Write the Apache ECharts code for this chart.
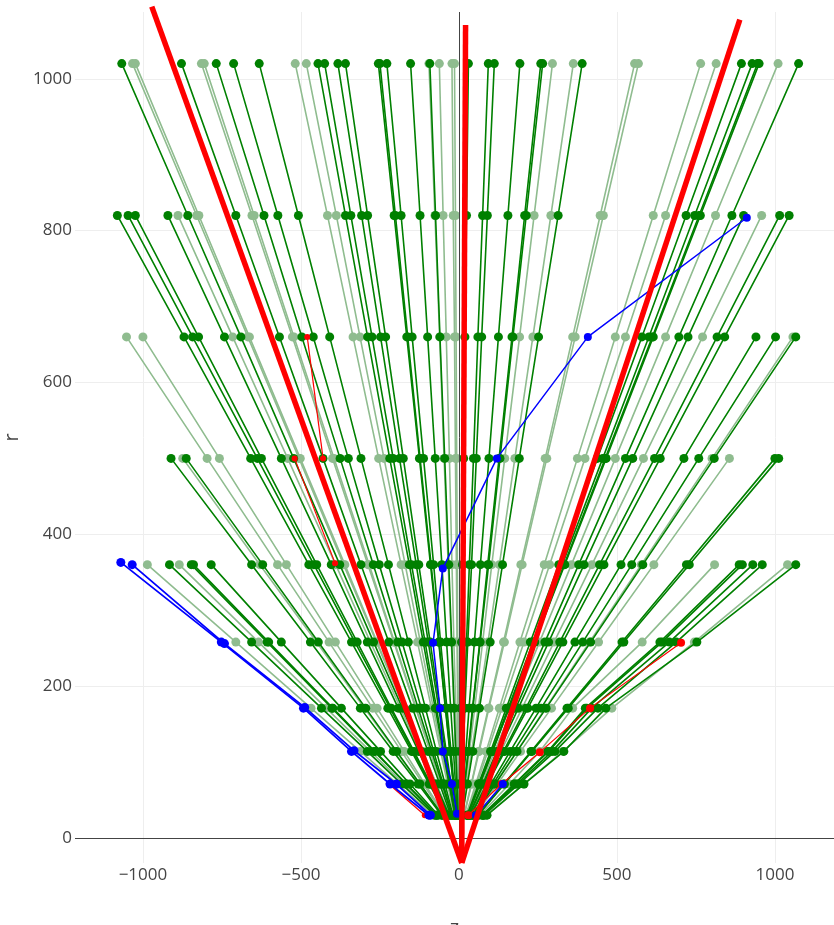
<!DOCTYPE html>
<html><head><meta charset="utf-8">
<script src="https://cdn.jsdelivr.net/npm/echarts@6/dist/echarts.min.js"></script>
<style>html,body{margin:0;padding:0;background:#fff}#c{width:834px;height:925px}</style>
</head><body><div id="c"></div>
<script>
// detector layer radii (r) — hits of each track are listed layer by layer from the innermost
const layerR = [30, 71, 114, 171, 258, 360, 500, 660, 820, 1020];

// z of hits, dark green tracks
const darkTracks = [
  [-76,-181,-290,-435,-656,-916],
  [-71,-167,-268,-402,-607,-847],
  [-70,-166,-266,-399,-602,-840],
  [-65,-155,-248,-372,-562,-784],
  [-55,-129,-208,-312,-470,-656,-911],
  [-52,-123,-197,-295,-445,-621,-863],
  [-40,-94,-150,-225,-340,-475,-659,-870,-1081],
  [-38,-91,-146,-218,-329,-459,-638,-843,-1047],
  [-37,-89,-142,-214,-322,-450,-625,-824,-1024],
  [-34,-80,-128,-192,-290,-404,-562,-742,-921],
  [-31,-74,-119,-179,-270,-377,-523,-690,-858,-1067],
  [-26,-61,-98,-147,-222,-310,-430,-568,-706,-878],
  [-23,-53,-86,-129,-194,-271,-376,-497,-617,-768],
  [-21,-50,-80,-119,-180,-252,-350,-461,-573,-713],
  [-19,-44,-71,-106,-160,-223,-310,-409,-508,-632],
  [-13,-31,-50,-75,-113,-157,-219,-289,-359,-446],
  [-12,-30,-48,-71,-107,-150,-208,-275,-342,-425],
  [-11,-27,-43,-64,-97,-135,-188,-248,-308,-383],
  [-11,-25,-40,-60,-91,-127,-176,-232,-289,-359],
  [-7,-18,-29,-43,-64,-90,-125,-165,-205,-255],
  [-7,-17,-28,-42,-63,-88,-123,-162,-201,-250],
  [-7,-16,-25,-38,-58,-80,-112,-148,-183,-228],
  [-4,-11,-17,-26,-39,-54,-75,-99,-123,-153],
  [-3,-6,-10,-15,-23,-32,-45,-60,-74,-92],
  [1,2,3,5,8,11,15,19,24,30],
  [3,6,10,16,24,33,46,60,75,93],
  [3,8,13,19,28,40,55,72,90,112],
  [6,13,22,32,49,68,95,125,155,193],
  [8,18,29,43,66,91,127,168,208,259],
  [8,18,30,44,67,94,130,171,213,265],
  [11,27,44,65,99,138,191,252,314,390],
  [26,62,100,150,226,316,438,579,719,894],
  [27,65,104,156,235,327,455,601,746,928],
  [28,66,106,158,239,333,463,612,760,945],
  [28,66,106,159,240,335,466,615,764,950],
  [32,75,120,180,272,379,527,696,864,1075],
  [33,78,125,188,284,396,550,725,901],
  [37,88,141,212,319,445,619,817,1015],
  [38,90,145,218,329,459,637,841,1045],
  [43,101,162,244,367,513,712,940],
  [46,108,173,260,392,547,759,1002],
  [48,115,184,276,417,582,808,1066],
  [60,142,228,342,516,720,1000],
  [61,144,231,346,522,729,1012],
  [74,175,281,400,636,887],
  [75,177,284,405,643,897],
  [77,183,295,420,666,930],
  [80,189,304,440,688,960],
  [89,206,332,465,753,1066]
];

// z of hits, light green tracks
const lightTracks = [
  [-82,-194,-312,-468,-706,-986],
  [-74,-174,-280,-420,-634,-885],
  [-52,-124,-199,-299,-451,-630,-874],
  [-48,-113,-182,-273,-411,-574,-797,-1052],
  [-45,-108,-173,-259,-391,-546,-758,-1000],
  [-33,-77,-124,-185,-280,-390,-542,-716,-889],
  [-30,-72,-115,-173,-261,-365,-506,-668,-830,-1033],
  [-30,-71,-114,-172,-259,-361,-502,-663,-823,-1024],
  [-24,-57,-91,-137,-206,-288,-400,-527,-655,-815],
  [-24,-56,-90,-135,-204,-284,-395,-522,-648,-806],
  [-15,-36,-58,-87,-131,-183,-254,-335,-416,-518],
  [-14,-34,-54,-81,-122,-170,-237,-313,-388,-483],
  [-3,-7,-11,-16,-24,-34,-47,-61,-76,-95],
  [-2,-4,-7,-10,-16,-22,-30,-40,-50,-62],
  [-1,-2,-2,-4,-6,-8,-11,-14,-18,-22],
  [0,-1,-2,-2,-4,-5,-7,-9,-11,-14],
  [9,21,33,50,75,104,145,192,238,296],
  [11,25,40,61,92,128,177,234,291,362],
  [16,39,62,93,141,196,273,360,447,556],
  [17,40,64,95,144,200,278,368,457,568],
  [22,53,86,128,193,270,375,495,615,765],
  [24,57,91,136,206,287,399,527,654,814],
  [30,70,113,169,255,356,495,654,812,1010],
  [35,83,133,200,301,421,584,771,958],
  [48,114,183,274,413,577,801,1057],
  [51,122,195,293,442,617,856],
  [67,160,256,360,580,809],
  [87,205,329,484,745,1040]
];

// blue tracks (z, r)
const blueCurveZ = [-6,-22,-51,-60,-82,-51,120,408,911];
const blueCurveR = [32,71,114,171,257,355,500,660,817];
const blueShortZ = [54,139];
const blueShortR = [30,71];
const blueLeftAZ = [-95,-218,-340,-492,-752,-1070];
const blueLeftAR = [30,71,114,171,258,363];
const blueLeftBZ = [-90,-198,-332,-488,-742,-1034];
const blueLeftBR = [30,71,115,172,256,360];

// thin red tracks (z, r)
const redRightZ = [30,135,256,415,703];
const redRightR = [30,71,113,171,257];
const redLeftAZ = [-520,-392];
const redLeftAR = [500,362];
const redLeftBZ = [-480,-430];
const redLeftBR = [660,500];
const redInnerZ = [-108,-222];
const redInnerR = [30,71];

// thick red reference lines: common lower vertex and three upper ends
const refVertexZ = 9, refVertexR = -33;
const refTopZ = [-972, 21, 889];
const refTopR = [1095, 1071, 1078];

const DARK = '#008000', LIGHT = '#8fbc8f', BLUE = '#0000ff', RED = '#ff0000';

function pairs(zs, rs) { return zs.map((z, i) => [z, rs[i]]); }
function trackSeries(data, color, width, size, z) {
  return { type: 'line', data, symbol: 'circle', symbolSize: size, showSymbol: true,
    lineStyle: { color, width }, itemStyle: { color }, silent: true, animation: false, z,
    emphasis: { disabled: true } };
}

const series = [];
series.push({ type: 'line', data: [], silent: true, z: 1,
  markLine: { silent: true, symbol: ['none', 'none'], label: { show: false }, animation: false,
    lineStyle: { color: '#444', width: 1, type: 'solid' },
    data: [{ xAxis: 0 }, { yAxis: 0 }] } });
lightTracks.forEach(t => series.push(trackSeries(pairs(t, layerR), LIGHT, 1.6, 9, 2)));
darkTracks.forEach(t => series.push(trackSeries(pairs(t, layerR), DARK, 1.6, 9, 3)));
series.push(trackSeries(pairs(redInnerZ, redInnerR), RED, 1.2, 6, 4));
series.push(trackSeries(pairs(redRightZ, redRightR), RED, 1.2, 8, 4));
series.push(trackSeries(pairs(redLeftAZ, redLeftAR), RED, 1.2, 6, 4));
series.push(trackSeries(pairs(redLeftBZ, redLeftBR), RED, 1.2, 6, 4));
series.push(trackSeries(pairs(blueLeftAZ, blueLeftAR), BLUE, 1.8, 9, 5));
series.push(trackSeries(pairs(blueLeftBZ, blueLeftBR), BLUE, 1.8, 9, 5));
series.push(trackSeries(pairs(blueCurveZ, blueCurveR), BLUE, 1.5, 8, 5));
series.push(trackSeries(pairs(blueShortZ, blueShortR), BLUE, 1.5, 8, 5));
refTopZ.forEach((zt, i) => series.push({ type: 'line', data: [[refVertexZ, refVertexR], [zt, refTopR[i]]],
  symbol: 'none', clip: false, lineStyle: { color: RED, width: 5.5 }, silent: true, animation: false, z: 6 }));

const minusFmt = v => (v < 0 ? '\u2212' + Math.abs(v) : String(v));

const chart = echarts.init(document.getElementById('c'), null, { renderer: 'canvas' });
chart.setOption({
  backgroundColor: '#fff',
  animation: false,
  textStyle: { fontFamily: 'Open Sans' },
  grid: { left: 75, right: 0, top: 12, bottom: 62, containLabel: false, outerBoundsMode: 'none' },
  xAxis: {
    type: 'value', min: -1215, max: 1187,
    name: 'z', nameLocation: 'middle', nameGap: 55,
    nameTextStyle: { fontSize: 20, color: '#444', fontFamily: 'Open Sans' },
    axisLine: { show: false }, axisTick: { show: false },
    axisLabel: { color: '#444', fontSize: 17, margin: 4, showMinLabel: false, showMaxLabel: false, formatter: minusFmt, fontFamily: 'Open Sans' },
    splitLine: { show: true, showMinLine: false, showMaxLine: false, lineStyle: { color: '#eeeeee', width: 1 } }
  },
  yAxis: {
    type: 'value', min: -33, max: 1088,
    name: 'r', nameLocation: 'middle', nameGap: 52, nameRotate: 90,
    nameTextStyle: { fontSize: 20, color: '#444', fontFamily: 'Open Sans' },
    axisLine: { show: false }, axisTick: { show: false },
    axisLabel: { color: '#444', fontSize: 17, margin: 3, showMinLabel: false, showMaxLabel: false, formatter: minusFmt, fontFamily: 'Open Sans' },
    splitLine: { show: true, showMinLine: false, showMaxLine: false, lineStyle: { color: '#eeeeee', width: 1 } }
  },
  series
});
</script>
</body></html>
